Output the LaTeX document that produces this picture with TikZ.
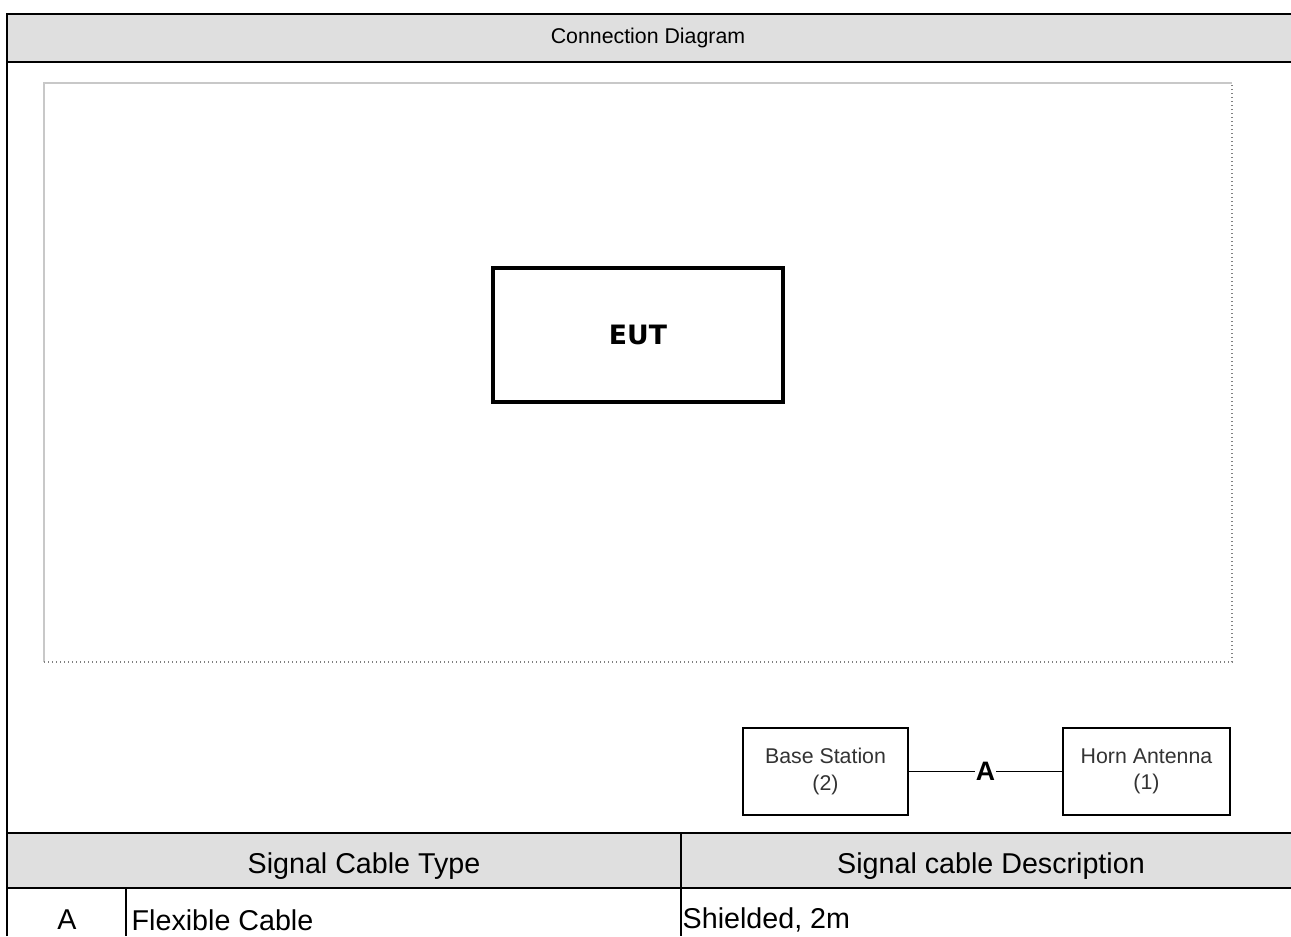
\documentclass[tikz,border=0pt]{standalone}
\usepackage{fontspec}
\setmainfont{Liberation Sans}
\newfontfamily\eutfont{DejaVu Sans}
\usepackage{tikz}
\usetikzlibrary{arrows}
\usetikzlibrary{calc}
\definecolor{headgray}{HTML}{DFDFDF}
\definecolor{photogray}{HTML}{C8C8C8}

\begin{document}
\begin{tikzpicture}[x=0.75pt,y=-0.75pt,
  frame/.style={line width=1.9pt},
  cell/.style={line width=1.6pt},
  photo/.style={draw=photogray,line width=1pt},
  unit/.style={draw,line width=1.8pt,align=center,text=black!80,font=\fontsize{16}{20}\selectfont},
  cabletext/.style={font=\fontsize{21.5}{24}\selectfont}]
\useasboundingbox (0,0) rectangle (1291,936);

\fill[headgray] (7,14) rectangle (1291,62);
\fill[headgray] (7,833) rectangle (1291,888);
\draw[frame] (7,936) |- (1291,14);
\foreach \y in {62,833,888}{\draw[frame] (7,\y) -- (1291,\y);}
\draw[cell] (681,833) -- (681,936);
\draw[cell] (126,888) -- (126,936);

\node[font=\fontsize{16}{19}\selectfont] (title) at (648,38) {Connection Diagram};
\node[cabletext] (typehead) at (364,866) {Signal Cable Type};
\node[cabletext] (deschead) at (991,866) {Signal cable Description};
\node[cabletext] (cableid) at (67,920) {A};
\node[cabletext,anchor=west] (cabletype) at (127,920) {Flexible Cable};
\node[cabletext,anchor=west] (cabledesc) at (678,920) {Shielded, 2m};

\draw[photo] (44,662) |- (1232,83);
\draw[photo,dotted,draw=gray] (44,662) -| (1232,83);

\node[draw,line width=2.3pt,minimum width=217.5pt,minimum height=100.5pt,font=\eutfont\bfseries\fontsize{20}{24}\selectfont] (eut) at (638,335) {EUT};

\node[unit,minimum width=123.75pt,minimum height=65.25pt] (base) at (825.5,771.5) {Base Station\\(2)};
\node[unit,minimum width=125.25pt,minimum height=65.25pt] (horn) at (1146.5,771.5) {Horn Antenna\\(1)};
\draw[line width=1.4pt] (base) -- node[fill=white,inner sep=1pt,font=\bfseries\fontsize{20}{22}\selectfont] (cablea) {A} (horn);
\end{tikzpicture}
\end{document}
